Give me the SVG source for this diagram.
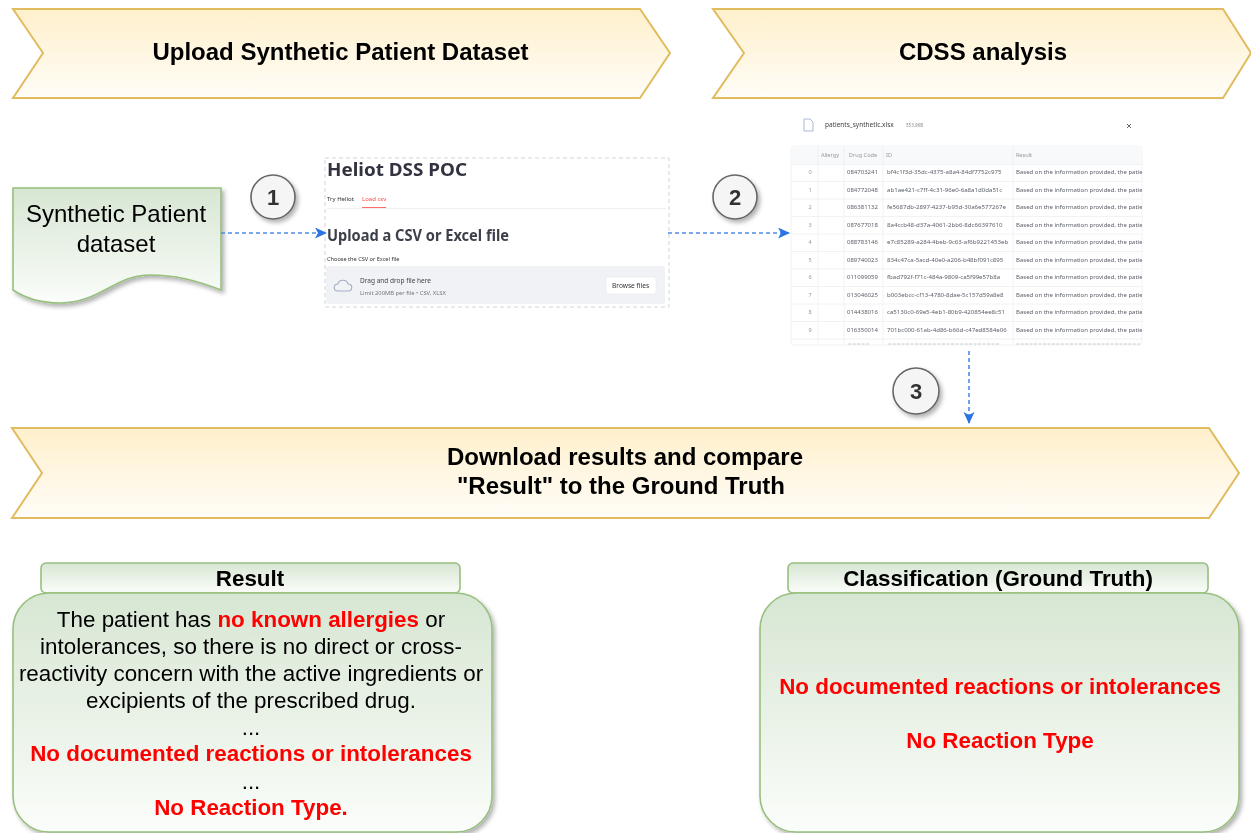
<svg xmlns="http://www.w3.org/2000/svg" width="1251" height="833" viewBox="0 0 1251 833">
<style>
text{font-family:"Liberation Sans",Arial,sans-serif;text-anchor:middle;fill:#000}
.banner{stroke:#e0bc5e;stroke-width:2;fill:url(#gy);filter:url(#soft)}
.b{font-weight:bold;font-size:24px;filter:url(#soft)}
.green{stroke:#97c07e;stroke-width:1.6;fill:url(#gg)}
.body{font-size:22.4px;filter:url(#soft)}
.red{font-weight:bold;fill:#f00}
.hd{font-weight:bold;font-size:22.4px;filter:url(#soft)}
.step circle{fill:#f5f5f5;stroke:#666;stroke-width:1.6;filter:url(#sh)}
.step text{font-weight:bold;font-size:22px;fill:#333;filter:url(#soft)}
.conn{stroke:#4d8ce8;stroke-width:1.6;stroke-dasharray:4 3;fill:none;marker-end:url(#arr)}
.ui{font-family:"Noto Sans","Open Sans",sans-serif;text-anchor:start}
.t{font-family:"Noto Sans","Open Sans",sans-serif;font-size:6px;fill:#5a5f68;text-anchor:start}
.i{font-size:6.100px}
.g{font-family:"Noto Sans","Open Sans",sans-serif;font-size:5.600px;fill:#999}
.hl{stroke:#eeeff2;stroke-width:.8}
</style>
<defs>
<linearGradient id="gy" x1="0" y1="0" x2="0" y2="1"><stop offset="0" stop-color="#fff0cc"/><stop offset="1" stop-color="#fffdf8"/></linearGradient>
<linearGradient id="gg" x1="0" y1="0" x2="0" y2="1"><stop offset="0" stop-color="#d7e6d3"/><stop offset="1" stop-color="#fbfdfa"/></linearGradient>
<filter id="sh" x="-20%" y="-20%" width="150%" height="150%"><feDropShadow dx="2.500" dy="3" stdDeviation="2" flood-color="#000" flood-opacity=".3"/></filter>
<filter id="soft" x="-5%" y="-10%" width="110%" height="120%"><feGaussianBlur stdDeviation=".35"/></filter>
<filter id="blur"><feGaussianBlur stdDeviation=".6"/></filter>
<filter id="blur2"><feGaussianBlur stdDeviation=".7"/></filter>
<clipPath id="tclip"><rect x="791" y="146" width="351" height="199"/></clipPath>
<marker id="arr" markerUnits="userSpaceOnUse" markerWidth="13" markerHeight="12" refX="11" refY="5.500" orient="auto"><path d="M0 0L12 5.500L0 11L3 5.500Z" fill="#2b74e2"/></marker>
</defs>

<g id="upload-banner"><path class="banner" d="M13 9H640L670 53L640 98H13L43 53Z"/><text class="b" x="340.500" y="60">Upload Synthetic Patient Dataset</text></g>
<g id="cdss-banner"><path class="banner" d="M713 9H1223L1251 53L1223 98H713L744 53Z"/><text class="b" x="983" y="60">CDSS analysis</text></g>
<g id="download-banner"><path class="banner" d="M12 428H1209L1239 473L1209 518H12L42 473Z"/><text class="b" x="625" y="465">Download results and compare</text><text class="b" x="621" y="494">"Result" to the Ground Truth</text></g>

<g id="dataset"><path class="green" filter="url(#sh)" d="M13 188H221V290C195 280 175 275 150 275C115 275 100 303 60 303C40 303 25 298 13 290Z"/><text style="font-size:24px;filter:url(#soft)" x="116" y="222">Synthetic Patient</text><text style="font-size:24px;filter:url(#soft)" x="116" y="252">dataset</text></g>

<g id="upload-screenshot">
<rect x="325" y="158" width="344" height="149" fill="#fff" stroke="#d4d4d4" stroke-width="1" stroke-dasharray="4 3"/>
<g filter="url(#blur)">
<text class="ui" x="327" y="176" style="font-size:18.500px;font-weight:bold;fill:#31333f" textLength="140" lengthAdjust="spacingAndGlyphs">Heliot DSS POC</text>
<text class="ui" x="327" y="201" style="font-size:6px;fill:#333">Try Heliot</text>
<text class="ui" x="362" y="201" style="font-size:6px;fill:#ff4b4b">Load csv</text>
<rect x="362" y="207" width="24" height="1.200" fill="#ff6b6b"/>
<rect x="327" y="208" width="339" height="1.200" fill="#f0f1f3"/>
<text class="ui" x="327" y="241" style="font-size:15.500px;font-weight:bold;fill:#3d404c" textLength="182" lengthAdjust="spacingAndGlyphs">Upload a CSV or Excel file</text>
<text class="ui" x="327" y="261" style="font-size:5.600px;fill:#333">Choose the CSV or Excel file</text>
<rect x="326" y="266" width="339" height="38" rx="3" fill="#f0f2f6"/>
<path d="M338 291C333 291 333 284 338 284C339 279 347 279 348 284C353 284 353 291 348 291Z" fill="none" stroke="#a4adc4" stroke-width="1.100"/>
<text class="ui" x="360" y="283" style="font-size:6.500px;fill:#444">Drag and drop file here</text>
<text class="ui" x="360" y="295" style="font-size:5.800px;fill:#777">Limit 200MB per file • CSV, XLSX</text>
<rect x="606" y="277" width="50" height="17" rx="2.500" fill="#fff" stroke="#e6e7ea" stroke-width=".6"/>
<text class="ui" x="612" y="288" style="font-size:6.600px;fill:#333">Browse files</text>
</g></g>

<g id="table-screenshot"><g filter="url(#blur2)">
<path d="M804 119H810L813 122V131H804Z" fill="#fff" stroke="#a9b9d4" stroke-width="1"/>
<text class="ui" x="825" y="127" style="font-size:6.500px;fill:#444">patients_synthetic.xlsx</text>
<text class="ui" x="906" y="127" style="font-size:4.500px;fill:#888">553.9KB</text>
<path d="M1127 124l4 4m0-4l-4 4" stroke="#555" stroke-width=".9" fill="none"/>
<rect x="791" y="146" width="351" height="199" rx="3" fill="#fff" stroke="#eeeff2" stroke-width=".8"/>
<rect x="791" y="146" width="351" height="18.500" fill="#f8f9fb"/>
<path class="hl" d="M818 146V345M844 146V345M883 146V345M1013 146V345M791 164.500H1142M791 181.500H1142M791 199H1142M791 216.500H1142M791 234H1142M791 251.500H1142M791 269H1142M791 286.500H1142M791 304H1142M791 321.500H1142M791 339H1142"/>
<text class="g" x="830" y="157">Allergy</text><text class="g" x="863" y="157">Drug Code</text><text class="g" x="889" y="157">ID</text><text class="g" x="1024" y="157">Result</text>
<text class="g" x="810" y="174">0</text><text class="g" x="810" y="191.500">1</text><text class="g" x="810" y="209">2</text><text class="g" x="810" y="226.500">3</text><text class="g" x="810" y="244">4</text><text class="g" x="810" y="261.500">5</text><text class="g" x="810" y="279">6</text><text class="g" x="810" y="296.500">7</text><text class="g" x="810" y="314">8</text><text class="g" x="810" y="331.500">9</text>
<g clip-path="url(#tclip)">
<text class="t" x="847" y="174">084703241</text><text class="t i" x="887" y="174">bf4c1f3d-35dc-4375-a8a4-84df7752c975</text><text class="t" x="1016" y="174">Based on the information provided, the patient</text>
<text class="t" x="847" y="191.500">084772048</text><text class="t i" x="887" y="191.500">ab1ae421-c7ff-4c31-96e0-6a8a1d0da51c</text><text class="t" x="1016" y="191.500">Based on the information provided, the patient</text>
<text class="t" x="847" y="209">086381132</text><text class="t i" x="887" y="209">fe5687db-2897-4237-b95d-30a6e577267e</text><text class="t" x="1016" y="209">Based on the information provided, the patient</text>
<text class="t" x="847" y="226.500">087677018</text><text class="t i" x="887" y="226.500">8a4ccb48-d37a-4061-2bb6-8dc66397610</text><text class="t" x="1016" y="226.500">Based on the information provided, the patient</text>
<text class="t" x="847" y="244">088783146</text><text class="t i" x="887" y="244">e7c85289-a284-4beb-9c63-af6b9221453eb</text><text class="t" x="1016" y="244">Based on the information provided, the patient</text>
<text class="t" x="847" y="261.500">089740023</text><text class="t i" x="887" y="261.500">834c47ca-5acd-40e0-a206-b48bf091c895</text><text class="t" x="1016" y="261.500">Based on the information provided, the patient</text>
<text class="t" x="847" y="279">011099059</text><text class="t i" x="887" y="279">fbad792f-f71c-484a-9809-ca5f99e57b8a</text><text class="t" x="1016" y="279">Based on the information provided, the patient</text>
<text class="t" x="847" y="296.500">013046025</text><text class="t i" x="887" y="296.500">b003ebcc-cf13-4780-8dae-5c157d59a8e8</text><text class="t" x="1016" y="296.500">Based on the information provided, the patient</text>
<text class="t" x="847" y="314">014438016</text><text class="t i" x="887" y="314">ca5130c0-69e5-4eb1-80b9-420854ee8c51</text><text class="t" x="1016" y="314">Based on the information provided, the patient</text>
<text class="t" x="847" y="331.500">016350014</text><text class="t i" x="887" y="331.500">701bc000-61ab-4d86-b66d-c47ed8584e06</text><text class="t" x="1016" y="331.500">Based on the information provided, the patient</text>
</g>
<path d="M848 344H870M888 344H1000M1016 344H1140" stroke="#c9cbd0" stroke-width="1" stroke-dasharray="3 1.500"/>
</g></g>

<g id="connectors">
<path class="conn" d="M221 233H326"/>
<path class="conn" d="M668 233H789"/>
<path class="conn" d="M969 351V423"/>
</g>

<g id="step-1" class="step"><circle cx="273" cy="197" r="22"/><text x="273" y="205">1</text></g>
<g id="step-2" class="step"><circle cx="735" cy="197" r="22"/><text x="735" y="205">2</text></g>
<g id="step-3" class="step"><circle cx="916" cy="391" r="23"/><text x="916" y="399">3</text></g>

<g id="result-header"><rect class="green" x="41" y="563" width="419" height="30" rx="5"/><text class="hd" x="250" y="586">Result</text></g>
<g id="result-body"><rect class="green" filter="url(#sh)" x="13" y="593" width="479" height="239" rx="36"/>
<text class="body" x="251" y="627">The patient has <tspan class="red">no known allergies</tspan> or</text>
<text class="body" x="251" y="654">intolerances, so there is no direct or cross-</text>
<text class="body" x="251" y="681">reactivity concern with the active ingredients or</text>
<text class="body" x="251" y="708">excipients of the prescribed drug.</text>
<text class="body" x="251" y="735">...</text>
<text class="body red" x="251" y="761">No documented reactions or intolerances</text>
<text class="body" x="251" y="789">...</text>
<text class="body red" x="251" y="815">No Reaction Type.</text></g>

<g id="truth-header"><rect class="green" x="788" y="563" width="420" height="30" rx="5"/><text class="hd" x="998" y="586">Classification (Ground Truth)</text></g>
<g id="truth-body"><rect class="green" filter="url(#sh)" x="760" y="593" width="479" height="239" rx="36"/>
<text class="body red" x="1000" y="694">No documented reactions or intolerances</text>
<text class="body red" x="1000" y="748">No Reaction Type</text></g>
</svg>
